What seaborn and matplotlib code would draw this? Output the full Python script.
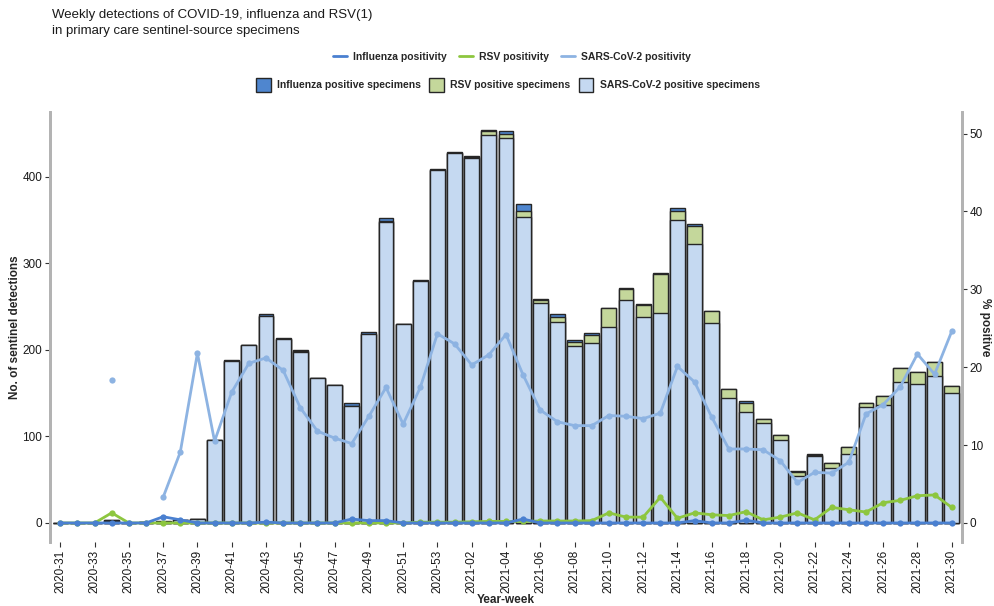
import numpy as np
import pandas as pd
import matplotlib
matplotlib.use("Agg")
import matplotlib.pyplot as plt
from matplotlib.lines import Line2D
from matplotlib.patches import Patch
import seaborn as sns

# weeks 2020-31 .. 2020-53, 2021-01 .. 2021-30
weeks = [f"2020-{w:02d}" for w in range(31, 54)] + [f"2021-{w:02d}" for w in range(1, 31)]

# positive specimens per week
sars_pos = [0, 0, 0, 2, 0, 1, 1, 3, 5, 96,
            187, 206, 239, 213, 198, 167, 159, 135, 218, 348,
            230, 280, 408, 428, 422, 448, 445, 354, 254, 232,
            204, 208, 227, 258, 238, 243, 350, 322, 231, 145,
            128, 116, 96, 54, 77, 63, 80, 134, 136, 163,
            161, 170, 150]
rsv_pos = [0, 0, 0, 1, 0, 0, 0, 0, 0, 0,
           0, 0, 0, 0, 1, 0, 0, 0, 0, 1,
           0, 0, 0, 0, 1, 5, 4, 7, 4, 6,
           5, 9, 21, 12, 14, 45, 11, 21, 14, 10,
           11, 4, 6, 5, 2, 6, 8, 5, 11, 16,
           14, 16, 8]
flu_pos = [0, 0, 0, 0, 0, 0, 1, 1, 0, 0,
           1, 0, 2, 1, 1, 0, 0, 4, 3, 4,
           0, 1, 1, 1, 1, 1, 4, 8, 1, 3,
           2, 2, 0, 1, 1, 1, 3, 3, 0, 0,
           2, 0, 0, 1, 1, 0, 0, 0, 0, 0,
           0, 0, 0]

# % positivity
sars_pct = [np.nan, np.nan, np.nan, 18.3, np.nan, np.nan, 3.3, 9.1, 21.8, 10.5,
            16.8, 20.5, 21.2, 19.6, 14.8, 11.8, 10.9, 10.2, 13.7, 17.4,
            12.7, 17.4, 24.3, 23.0, 20.3, 21.6, 24.2, 19.0, 14.5, 13.0,
            12.5, 12.5, 13.8, 13.7, 13.4, 14.1, 20.1, 18.1, 13.6, 9.5,
            9.5, 9.4, 8.0, 5.2, 6.5, 6.4, 7.8, 14.0, 15.2, 17.5,
            21.7, 19.1, 24.6]
rsv_pct = [0, 0, 0, 1.3, 0, 0, 0, 0, 0, 0,
           0, 0, 0, 0, 0, 0, 0, 0, 0, 0,
           0, 0.1, 0.1, 0.1, 0.15, 0.2, 0.2, 0.2, 0.25, 0.25,
           0.25, 0.3, 1.3, 0.75, 0.75, 3.3, 0.6, 1.3, 1.05, 0.95,
           1.45, 0.4, 0.75, 1.3, 0.4, 2.0, 1.7, 1.4, 2.6, 2.9,
           3.5, 3.6, 2.0]
flu_pct = [0, 0, 0, 0, 0, 0, 0.8, 0.4, 0, 0,
           0, 0, 0.1, 0, 0, 0, 0, 0.5, 0.3, 0.3,
           0, 0, 0, 0, 0, 0, 0, 0.5, 0, 0,
           0, 0, 0, 0, 0, 0, 0, 0.3, 0, 0,
           0.35, 0, 0, 0, 0, 0, 0, 0, 0, 0,
           0, 0, 0]

c_flu_bar, c_rsv_bar, c_sars_bar = "#4f86cf", "#c4d79b", "#c5d9f1"
c_flu_line, c_rsv_line, c_sars_line = "#4a80d0", "#8dc63f", "#8db3e2"
edge = "#262626"

sns.set_theme(style="white")
plt.rcParams["font.family"] = ["Liberation Sans", "DejaVu Sans"]

idx = np.arange(len(weeks))
df = pd.DataFrame({"week": weeks, "i": idx, "sars": sars_pos, "rsv": rsv_pos, "flu": flu_pos,
                   "sars_pct": sars_pct, "rsv_pct": rsv_pct, "flu_pct": flu_pct})
df["top_flu"] = df["sars"] + df["rsv"] + df["flu"]
df["top_rsv"] = df["sars"] + df["rsv"]
# separate the isolated SARS point from the continuous line
df["seg"] = np.where(df["i"] < 5, 0, 1)

fig, ax = plt.subplots(figsize=(9.94, 6.06), dpi=100)
fig.subplots_adjust(left=50 / 994, right=962 / 994, top=1 - 112 / 606, bottom=1 - 542 / 606)

for col, colr in [("top_flu", c_flu_bar), ("top_rsv", c_rsv_bar), ("sars", c_sars_bar)]:
    sns.barplot(data=df, x="week", y=col, color=colr, saturation=1, edgecolor=edge,
                linewidth=1.0, width=0.86, ax=ax)

ax.set_ylim(-22, 475)
ax.set_yticks([0, 100, 200, 300, 400])
ax.set_xlim(-0.6, 52.6)
ax.set_xticks(idx[::2])
ax.set_xticklabels(weeks[::2], rotation=90)
ax.set_xlabel("Year-week", fontweight="bold", fontsize=8.5, labelpad=1)
ax.set_ylabel("No. of sentinel detections", fontweight="bold", fontsize=8.5)
ax.yaxis.set_label_coords(-0.032, 0.5)

ax2 = ax.twinx()
sns.lineplot(data=df, x="i", y="sars_pct", units="seg", estimator=None, color=c_sars_line,
             lw=2, marker="o", markersize=4.5, markeredgewidth=0, ax=ax2, legend=False)
sns.lineplot(data=df, x="i", y="rsv_pct", color=c_rsv_line, lw=2, marker="o",
             markersize=4.5, markeredgewidth=0, ax=ax2, legend=False)
sns.lineplot(data=df, x="i", y="flu_pct", color=c_flu_line, lw=2, marker="o",
             markersize=4.5, markeredgewidth=0, ax=ax2, legend=False)
ax2.set_ylim(-22 / 9, 475 / 9)
ax2.set_yticks([0, 10, 20, 30, 40, 50])
ax2.set_xlim(-0.6, 52.6)
ax2.set_xlabel("")
ax2.set_ylabel("% positive", fontweight="bold", fontsize=8.5, rotation=-90, va="center")
ax2.yaxis.set_label_coords(1.025, 0.5)

for a in (ax, ax2):
    for s in ("top", "bottom"):
        a.spines[s].set_visible(False)
    for s in ("left", "right"):
        a.spines[s].set_color("#b3b3b3")
        a.spines[s].set_linewidth(2)
    a.tick_params(axis="both", length=3.5, width=0.8, color="#333333", labelsize=8.5,
                  labelcolor="#1a1a1a", pad=2)
    a.grid(False)
ax.tick_params(axis="x", bottom=True)

fig.text(52 / 994, 1 - 9 / 606,
         "Weekly detections of COVID-19, influenza and RSV(1)\nin primary care sentinel-source specimens",
         ha="left", va="top", fontsize=9.5, color="#1a1a1a", linespacing=1.45)

line_handles = [Line2D([], [], color=c_flu_line, lw=2),
                Line2D([], [], color=c_rsv_line, lw=2),
                Line2D([], [], color=c_sars_line, lw=2)]
fig.legend(line_handles, ["Influenza positivity", "RSV positivity", "SARS-CoV-2 positivity"],
           loc="center", bbox_to_anchor=(512 / 994, 1 - 57 / 606), ncol=3, frameon=False,
           prop={"weight": "bold", "size": 7.5}, handlelength=1.3, columnspacing=1.2,
           handletextpad=0.6)
bar_handles = [Patch(facecolor=c_flu_bar, edgecolor=edge, lw=1),
               Patch(facecolor=c_rsv_bar, edgecolor=edge, lw=1),
               Patch(facecolor=c_sars_bar, edgecolor=edge, lw=1)]
fig.legend(bar_handles, ["Influenza positive specimens", "RSV positive specimens",
                         "SARS-CoV-2 positive specimens"],
           loc="center", bbox_to_anchor=(508 / 994, 1 - 85 / 606), ncol=3, frameon=False,
           prop={"weight": "bold", "size": 7.5}, handlelength=1.4, handleheight=1.6,
           columnspacing=0.8, handletextpad=0.6)

fig.savefig("out.png", dpi=100)
